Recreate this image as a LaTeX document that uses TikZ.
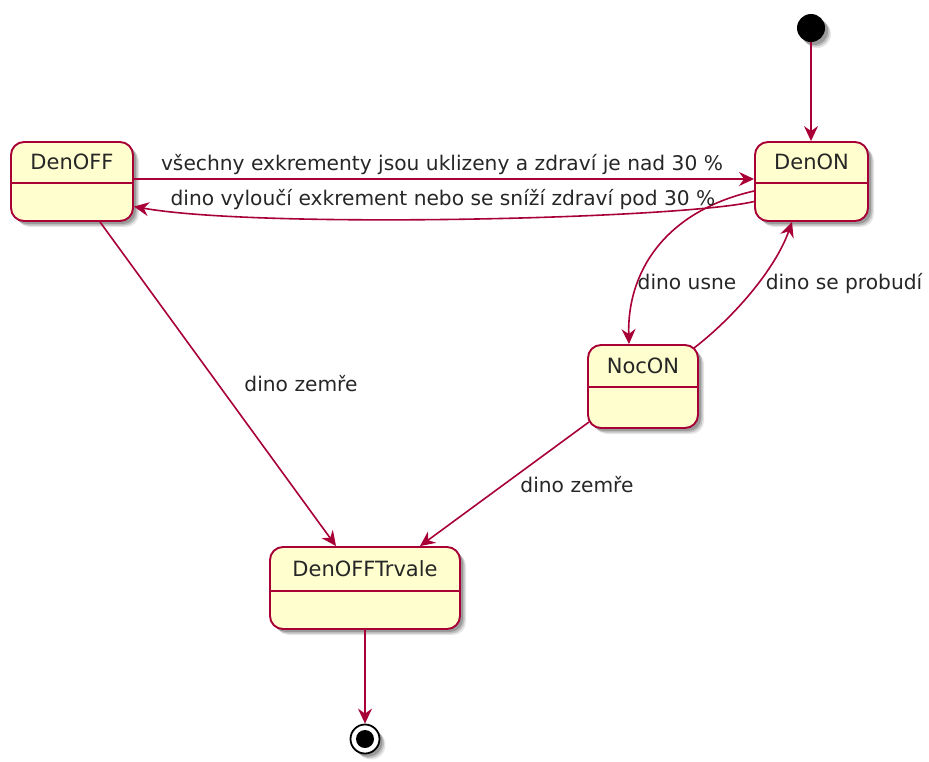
\documentclass[tikz,border=0pt]{standalone}
\usepackage{fontspec}
\setmainfont{DejaVu Sans}
\usetikzlibrary{arrows.meta,shadows}
\definecolor{umlborder}{HTML}{A80036}
\definecolor{umlfill}{HTML}{FEFECE}
\tikzset{
  softshadow/.style={
    drop shadow={shadow xshift=6pt,shadow yshift=-6pt,opacity=.10,fill=black},
    drop shadow={shadow xshift=4.5pt,shadow yshift=-4.5pt,opacity=.16,fill=black},
    drop shadow={shadow xshift=3pt,shadow yshift=-3pt,opacity=.20,fill=black}},
  statebox/.style={draw=umlborder,fill=umlfill,line width=1.9pt,rounded corners=13pt,
    inner sep=0pt,softshadow},
  statetitle/.style={anchor=base,inner sep=0pt,text=black!85,font=\fontsize{21}{24}\selectfont},
  divider/.style={draw=umlborder,line width=1.6pt},
  translabel/.style={anchor=base,inner sep=0pt,text=black!85,font=\fontsize{20.2}{24}\selectfont},
  transition/.style={draw=umlborder,line width=1.6pt,
    -{Stealth[length=15pt,width=14pt,inset=5pt]}},
}
\begin{document}
\begin{tikzpicture}[x=1pt,y=-1pt]
\useasboundingbox (0,0) rectangle (929,761);

% initial and final pseudo-states
\node[circle,fill=black,minimum size=28pt,inner sep=0pt,softshadow] (start) at (811,28) {};
\node[circle,draw=black,fill=white,line width=1.8pt,minimum size=29pt,inner sep=0pt,softshadow] (final) at (365,739) {};
\node[circle,fill=black,minimum size=18pt,inner sep=0pt] (finaldot) at (final.center) {};

% states
\node[statebox,minimum width=122pt,minimum height=79pt] (denoff) at (72,181.5) {};
\node[statebox,minimum width=113pt,minimum height=79pt] (denon) at (811.5,181.5) {};
\node[statebox,minimum width=110pt,minimum height=83pt] (nocon) at (643,386.5) {};
\node[statebox,minimum width=190pt,minimum height=82pt] (trvale) at (365,588) {};

\path[divider] (denoff.west |- 0,183) -- (denoff.east |- 0,183);
\path[divider] (denon.west |- 0,183) -- (denon.east |- 0,183);
\path[divider] (nocon.west |- 0,387) -- (nocon.east |- 0,387);
\path[divider] (trvale.west |- 0,591) -- (trvale.east |- 0,591);

\node[statetitle] (denofftitle) at (72,169) {DenOFF};
\node[statetitle] (denontitle) at (811.5,169) {DenON};
\node[statetitle] (nocontitle) at (643,373) {NocON};
\node[statetitle] (trvaletitle) at (365,576) {DenOFFTrvale};

% transitions
\path[transition] (start) -- (start |- denon.north);
\path[transition] ([yshift=2.5pt]denoff.east) -- ([yshift=2.5pt]denon.west);
\path[transition] ([yshift=-20pt]denon.west)
  .. controls (680,219) and (260,229) .. ([yshift=-25pt]denoff.east);
\path[transition] ([yshift=-9.5pt]denon.west)
  .. controls (662,212) and (627,275) .. ([xshift=-14pt]nocon.north);
\path[transition] ([xshift=-5pt,yshift=-4pt]nocon.north east)
  .. controls (733,318) and (775,270) .. ([xshift=-19.5pt]denon.south);
\path[transition] ([xshift=28pt]denoff.south) -- ([xshift=-29pt]trvale.north);
\path[transition] ([xshift=2pt,yshift=7pt]nocon.south west) -- ([xshift=55pt]trvale.north);
\path[transition] (trvale.south) -- (final.north);

% transition labels
\node[translabel] (lblclean) at (442,170) {všechny exkrementy jsou uklizeny a zdraví je nad 30 \%};
\node[translabel] (lbldirty) at (443,205) {dino vyloučí exkrement nebo se sníží zdraví pod 30 \%};
\node[translabel] (lblsleep) at (687,289) {dino usne};
\node[translabel] (lblwake) at (844,289) {dino se probudí};
\node[translabel] (lbldie1) at (301,391) {dino zemře};
\node[translabel] (lbldie2) at (577,492) {dino zemře};
\end{tikzpicture}
\end{document}
